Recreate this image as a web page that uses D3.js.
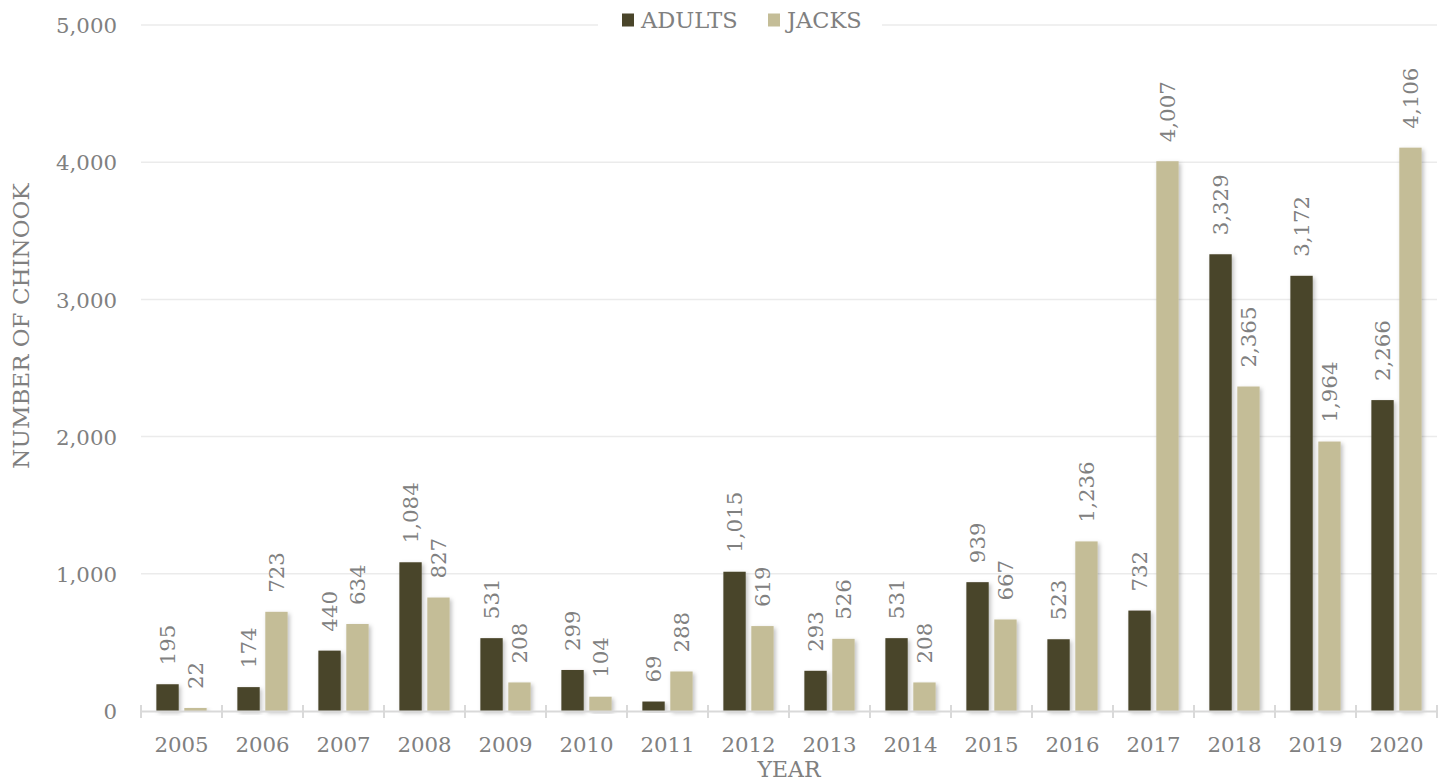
<!DOCTYPE html>
<html><head><meta charset="utf-8">
<script src="https://cdn.jsdelivr.net/npm/d3@7"></script>
<style>html,body{margin:0;padding:0;background:#fff;}svg{display:block;}
svg text{font-family:"DejaVu Serif",serif !important;}</style>
</head><body>
<script>
const years = ["2005","2006","2007","2008","2009","2010","2011","2012","2013","2014","2015","2016","2017","2018","2019","2020"];
const adults = [195,174,440,1084,531,299,69,1015,293,531,939,523,732,3329,3172,2266];
const jacks = [22,723,634,827,208,104,288,619,526,208,667,1236,4007,2365,1964,4106];
const seriesNames = ["ADULTS","JACKS"];
const seriesColors = ["#4A452A","#C4BD97"];
const yTicks = [0,1000,2000,3000,4000,5000];

const W = 1443, H = 783;
const m = {left:141, right:6, top:25, bottom:72};
const FS = 21.3;
const FT = 22.5;
const TXT = "#808080";

const svg = d3.select("body").append("svg").attr("width", W).attr("height", H);
const defs = svg.append("defs");
const f = defs.append("filter").attr("id","sh").attr("x","-20%").attr("y","-5%").attr("width","150%").attr("height","120%");
f.append("feDropShadow").attr("dx",2).attr("dy",2).attr("stdDeviation",2).attr("flood-color","#000").attr("flood-opacity",0.25);

const x = d3.scaleBand().domain(years).range([m.left, W - m.right]);
const y = d3.scaleLinear().domain([0,5000]).range([H - m.bottom, m.top]);
const xs = d3.scaleBand().domain(seriesNames).range([0, x.bandwidth()]).paddingInner(0.2).paddingOuter(0.55);

// gridlines
svg.append("g").selectAll("line").data(yTicks.filter(d=>d>0)).join("line")
  .attr("x1", m.left).attr("x2", W - m.right)
  .attr("y1", d=>y(d)).attr("y2", d=>y(d))
  .attr("stroke","#ebebeb").attr("stroke-width",1.5);

// y axis labels
const yAxis = d3.axisLeft(y).tickValues(yTicks).tickFormat(d3.format(",")).tickSize(0).tickPadding(0);
const ya = svg.append("g").attr("transform",`translate(117,0)`).call(yAxis);
ya.select(".domain").remove();
ya.attr("font-family", null).attr("font-size", null);
ya.selectAll("text").attr("font-size",FS).attr("fill",TXT).attr("dy","0.36em");

// bars
const data = years.map((yr,i)=>({year:yr, vals:[adults[i], jacks[i]]}));
const groups = svg.append("g").selectAll("g").data(data).join("g")
  .attr("transform", d=>`translate(${x(d.year)},0)`);
groups.selectAll("rect").data(d=>d.vals.map((v,k)=>({k,v}))).join("rect")
  .attr("x", d=>xs(seriesNames[d.k]))
  .attr("width", xs.bandwidth())
  .attr("y", d=>y(d.v))
  .attr("height", d=>y(0)-y(d.v))
  .attr("fill", d=>seriesColors[d.k])
  .attr("filter","url(#sh)");
groups.selectAll("text").data(d=>d.vals.map((v,k)=>({k,v}))).join("text")
  .attr("transform", d=>`translate(${xs(seriesNames[d.k]) + xs.bandwidth()/2 + 7.8},${y(d.v) - 19}) rotate(-90)`)
  .attr("font-size",FS).attr("fill",TXT)
  .text(d=>d3.format(",")(d.v));

// x axis
const xAxis = d3.axisBottom(x).tickSize(0).tickPadding(0);
const xa = svg.append("g").attr("transform",`translate(0,${y(0)})`).call(xAxis);
xa.attr("font-family", null).attr("font-size", null);
xa.select(".domain").attr("stroke","#d9d9d9").attr("stroke-width",2);
xa.selectAll("text").attr("font-size",FS).attr("fill",TXT).attr("y",41).attr("dy",0);
const bounds = years.map(yv=>x(yv)).concat([x(years[years.length-1]) + x.bandwidth()]);
xa.append("g").selectAll("line").data(bounds).join("line")
  .attr("x1", d=>d).attr("x2", d=>d).attr("y1",-6).attr("y2",7)
  .attr("stroke","#d9d9d9").attr("stroke-width",2);

// axis titles
svg.append("text").attr("x", (m.left + W - m.right)/2).attr("y", 777)
  .attr("text-anchor","middle").attr("font-size",22).attr("fill",TXT).text("YEAR");
svg.append("text").attr("transform",`translate(29,${326}) rotate(-90)`)
  .attr("text-anchor","middle").attr("font-size",23).attr("fill",TXT).text("NUMBER OF CHINOOK");

// legend
const lg = svg.append("g");
lg.append("rect").attr("x",598).attr("y",10).attr("width",284).attr("height",30).attr("fill","#fff");
const legX = [622, 768];
seriesNames.forEach((n,i)=>{
  lg.append("rect").attr("x",legX[i]).attr("y",13.5).attr("width",12).attr("height",13).attr("fill",seriesColors[i]);
  lg.append("text").attr("x",legX[i]+19).attr("y",27.5).attr("font-size",FT).attr("fill",TXT).text(n);
});
</script>
</body></html>
